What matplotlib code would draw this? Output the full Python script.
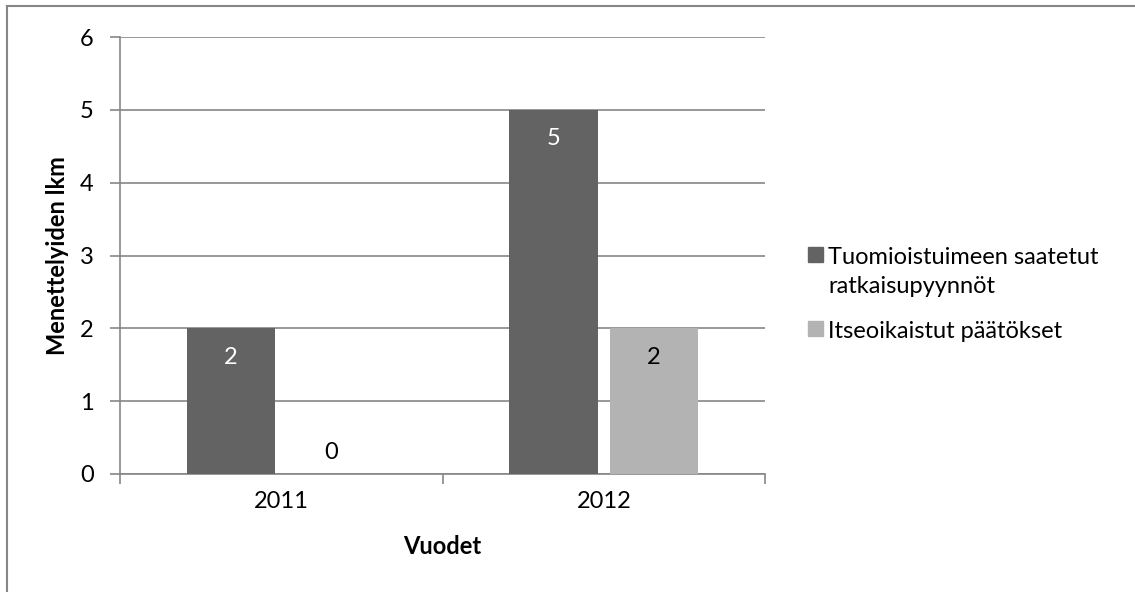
import matplotlib.pyplot as plt
from matplotlib.lines import Line2D
from matplotlib.patches import Rectangle

years = ['2011', '2012']
ratkaisupyynnot = [2, 5]
itseoikaistut = [0, 2]
series_names = ['Tuomioistuimeen saatetut\nratkaisupyynnöt', 'Itseoikaistut päätökset']
colors = ['#636363', '#b3b3b3']

plt.rcParams['font.family'] = ['Lato', 'DejaVu Sans']
fs = 17

W, H = 1135, 592
fig = plt.figure(figsize=(W / 100, H / 100), dpi=100)
ax = fig.add_axes([120 / W, 1 - 474 / H, 645 / W, 437 / H])

# chart frame: only top and left edges are visible (rest is cropped off)
fig.add_artist(Line2D([7 / W, 7 / W], [0, 1 - 6 / H], transform=fig.transFigure,
                      color='#868686', linewidth=1.5))
fig.add_artist(Line2D([7 / W, 1], [1 - 6 / H, 1 - 6 / H], transform=fig.transFigure,
                      color='#868686', linewidth=1.5))

x = range(len(years))
w = 0.275
off = 0.156
b1 = ax.bar([i - off for i in x], ratkaisupyynnot, w, color=colors[0], zorder=3)
b2 = ax.bar([i + off for i in x], itseoikaistut, w, color=colors[1], zorder=3)

# data labels
for rect, v in zip(b1, ratkaisupyynnot):
    ax.text(rect.get_x() + rect.get_width() / 2, v - 0.4, str(v), ha='center', va='center',
            color='white', fontsize=fs)
for rect, v in zip(b2, itseoikaistut):
    y = v - 0.4 if v > 0 else 0.3
    ax.text(rect.get_x() + rect.get_width() / 2, y, str(v), ha='center', va='center',
            color='black', fontsize=fs)

ax.set_xlim(-0.5, 1.5)
ax.set_ylim(0, 6)
ax.set_yticks(range(7))
ax.yaxis.grid(True, color='#868686', linewidth=1.2, zorder=0)

ax.set_xticks([-0.5, 0.5, 1.5])
ax.set_xticklabels([])
ax.set_xticks([0, 1], minor=True)
ax.set_xticklabels(years, minor=True)
ax.tick_params(axis='x', which='minor', length=0, pad=12, labelsize=fs)
ax.tick_params(axis='x', which='major', length=7, color='#868686', width=1.2)
ax.tick_params(axis='y', length=7, color='#868686', width=1.2, labelsize=fs, pad=12)

for s in ['top', 'right']:
    ax.spines[s].set_visible(False)
for s in ['left', 'bottom']:
    ax.spines[s].set_color('#868686')
    ax.spines[s].set_linewidth(1.2)

ax.set_ylabel('Menettelyiden lkm', fontsize=fs, fontweight='bold', labelpad=8)
ax.set_xlabel('Vuodet', fontsize=fs, fontweight='bold', labelpad=17)

# legend, square aligned with the first line of each entry
entry_y = [255, 329]
for name, c, yy in zip(series_names, colors, entry_y):
    fig.patches.append(Rectangle((808 / W, 1 - (yy + 7) / H), 15 / W, 15 / H,
                                 transform=fig.transFigure, color=c))
    for j, line in enumerate(name.split('\n')):
        fig.text(828 / W, 1 - (yy + j * 30) / H, line, fontsize=fs, va='center_baseline')

fig.savefig('out.png', dpi=100)
